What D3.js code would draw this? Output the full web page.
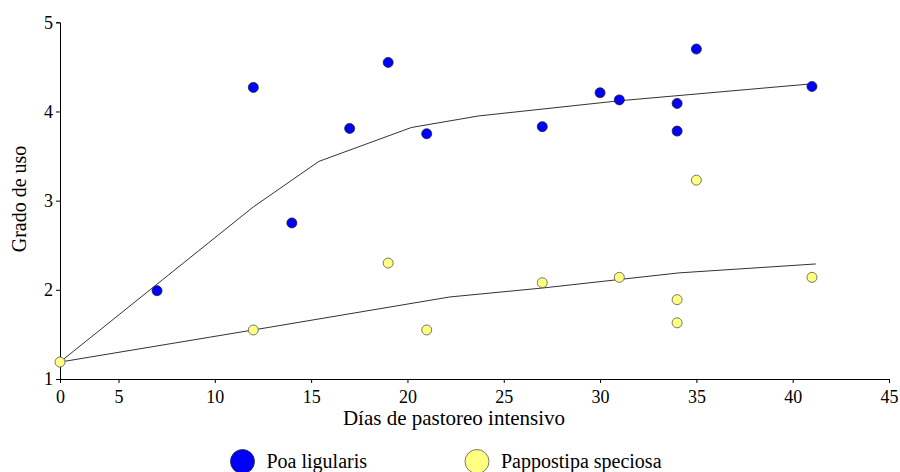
<!DOCTYPE html>
<html>
<head>
<meta charset="utf-8">
<script src="https://cdn.jsdelivr.net/npm/d3@7"></script>
<style>
body { margin: 0; background: #fff; }
text { font-family: "Liberation Serif", "Times New Roman", serif; fill: #000; }
.axis path, .axis line { stroke: #000; }
</style>
</head>
<body>
<svg id="chart" width="900" height="472"></svg>
<script>
// data
const poaDays = [7, 12, 14, 17, 19, 21, 27, 30, 31, 34, 34, 35, 41];
const poaUse = [1.99, 4.27, 2.75, 3.81, 4.55, 3.75, 3.83, 4.21, 4.13, 4.09, 3.78, 4.70, 4.28];

const papDays = [0, 12, 19, 21, 27, 31, 34, 34, 35, 41];
const papUse = [1.19, 1.55, 2.30, 1.55, 2.08, 2.14, 1.89, 1.63, 3.23, 2.14];

// fitted curves
const poaFitDays = [0, 12, 15.4, 20.2, 23.7, 31, 41];
const poaFitUse = [1.19, 2.93, 3.44, 3.82, 3.95, 4.12, 4.31];
const papFitDays = [0, 12, 22.2, 27, 34.1, 41.2];
const papFitUse = [1.19, 1.55, 1.92, 2.02, 2.19, 2.29];

const xTicks = [0, 5, 10, 15, 20, 25, 30, 35, 40, 45];
const yTicks = [1, 2, 3, 4, 5];

const series = ["Poa ligularis", "Pappostipa speciosa"];
const colors = ["#0000ff", "#ffff80"];
const strokes = ["#222", "#555"];

const drawChart = ()=>{
    let svg = d3.select("#chart");

    // the original axis squeezes the 0-5 stretch
    let xScale = d3.scaleLinear().domain([0, 5, 45]).range([60, 118.5, 889]);
    let yScale = d3.scaleLinear().domain([1, 5]).range([379, 22.3]);

    let xAxis = d3.axisBottom(xScale).tickValues(xTicks).tickFormat(d3.format("d")).tickSizeOuter(0).tickSize(4).tickPadding(4);
    let yAxis = d3.axisLeft(yScale).tickValues(yTicks).tickFormat(d3.format("d")).tickSizeOuter(0).tickSize(4).tickPadding(3);

    let line = d3.line()
    .x((d)=>xScale(d[0]))
    .y((d)=>yScale(d[1]));

    let fits = [
        d3.zip(poaFitDays, poaFitUse),
        d3.zip(papFitDays, papFitUse)
    ];

    svg.selectAll(".fit")
    .data(fits)
    .enter().append("path")
    .attr("class", "fit")
    .attr("d", line)
    .attr("fill", "none")
    .attr("stroke", "#333")
    .attr("stroke-width", 1);

    let gx = svg.append("g")
    .attr("class", "x axis")
    .attr("transform", "translate(0,379)")
    .call(xAxis)
    .attr("font-family", "Liberation Serif, serif")
    .attr("font-size", 18);
    gx.selectAll("text").attr("dy", "0.9em");

    svg.append("g")
    .attr("class", "y axis")
    .attr("transform", "translate(60,0)")
    .call(yAxis)
    .attr("font-family", "Liberation Serif, serif")
    .attr("font-size", 18);

    let points = [
        d3.zip(papDays, papUse),
        d3.zip(poaDays, poaUse)
    ];
    let order = [1, 0];

    points.forEach((pts, i)=>{
        let k = order[i];
        svg.append("g")
        .selectAll("circle")
        .data(pts)
        .enter().append("circle")
        .attr("cx", (d)=>xScale(d[0]))
        .attr("cy", (d)=>yScale(d[1]))
        .attr("r", 5)
        .attr("fill", colors[k])
        .attr("stroke", strokes[k])
        .attr("stroke-width", 0.8);
    });

    svg.append("text")
    .attr("x", 454)
    .attr("y", 425)
    .attr("text-anchor", "middle")
    .attr("font-size", "21px")
    .text("Días de pastoreo intensivo");

    svg.append("text")
    .attr("transform", "translate(26,199) rotate(-90)")
    .attr("text-anchor", "middle")
    .attr("font-size", "20px")
    .text("Grado de uso");

    // legend
    let legendX = [242.5, 477];
    let legend = svg.selectAll(".legend")
    .data(series)
    .enter().append("g")
    .attr("class", "legend")
    .attr("transform", (d, i)=>"translate(" + legendX[i] + ",461.5)");

    legend.append("circle")
    .attr("r", 12)
    .attr("fill", (d, i)=>colors[i])
    .attr("stroke", (d, i)=>strokes[i])
    .attr("stroke-width", 0.8);

    legend.append("text")
    .attr("x", 24)
    .attr("y", 6)
    .attr("font-size", "20px")
    .text((d)=>d);
}

window.onload = function(){
    drawChart();
}
</script>
</body>
</html>
